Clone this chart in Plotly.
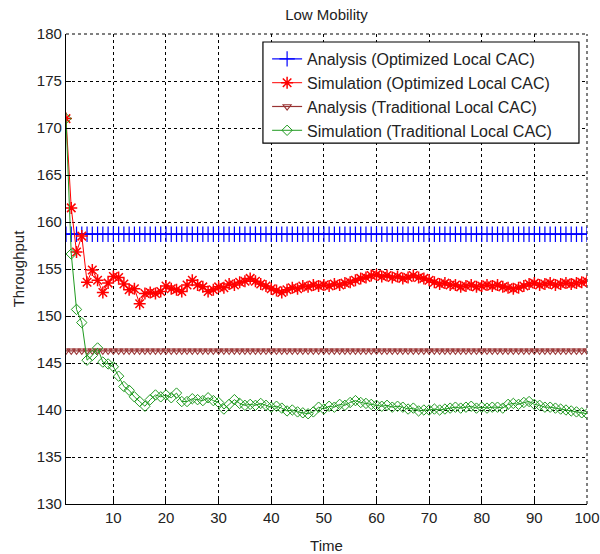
import plotly.graph_objects as go

# Time axis (steps 1..100)
time = list(range(1, 101))

# Analytical throughput levels (constant over time)
analysis_optimized_level = 158.7
analysis_traditional_level = 146.3

# Simulated throughput, optimized local CAC
sim_optimized = [
    171.0, 161.5, 156.8, 158.5, 153.6, 154.9, 153.8, 152.5, 153.5, 154.2,
    154.1, 153.4, 152.8, 152.9, 151.3, 152.4, 152.5, 152.4, 152.6, 153.2,
    152.9, 152.8, 152.6, 153.3, 153.8, 153.3, 153.1, 152.6, 152.8, 153.1,
    153.0, 153.4, 153.3, 153.6, 153.7, 154.0, 153.7, 153.4, 153.2, 152.9,
    152.7, 152.5, 152.8, 153.0, 152.9, 153.2, 153.1, 153.3, 153.2, 153.3,
    153.2, 153.4, 153.3, 153.5, 153.6, 153.8, 154.0, 154.1, 154.3, 154.4,
    154.2, 154.3, 154.1, 154.2, 154.0, 154.1, 154.3, 154.1, 154.0, 153.8,
    153.6, 153.4, 153.5, 153.3, 153.3, 153.1, 153.2, 153.3, 153.1, 153.2,
    153.3, 153.2, 153.3, 153.1, 153.0, 152.9, 153.0, 153.2, 153.4, 153.5,
    153.3, 153.4, 153.5, 153.3, 153.4, 153.5, 153.4, 153.5, 153.6, 153.7,
]

# Simulated throughput, traditional local CAC
sim_traditional = [
    171.0, 156.6, 150.7, 149.3, 145.3, 145.8, 146.6, 145.1, 144.9, 144.6,
    143.6, 142.5, 142.1, 141.4, 140.9, 140.4, 141.1, 141.6, 141.4, 141.6,
    141.3, 141.8, 140.9, 140.9, 141.2, 141.1, 141.0, 141.3, 141.0, 140.8,
    140.1, 140.6, 141.1, 140.7, 140.5, 140.6, 140.5, 140.7, 140.5, 140.3,
    140.4, 140.2, 139.9, 140.0, 139.8, 139.7, 139.6, 139.8, 140.3, 140.1,
    140.4, 140.3, 140.6, 140.5, 140.8, 141.0, 140.8, 140.7, 140.6, 140.5,
    140.4, 140.5, 140.3, 140.4, 140.3, 140.1, 140.2, 139.9, 140.0, 140.0,
    140.1, 140.0, 140.1, 140.2, 140.3, 140.2, 140.3, 140.4, 140.2, 140.3,
    140.2, 140.3, 140.3, 140.2, 140.6, 140.7, 140.6, 140.8, 140.9, 140.6,
    140.5, 140.3, 140.3, 140.2, 140.1, 140.0, 139.9, 139.8, 139.7, 139.6,
]

analysis_optimized = [analysis_optimized_level for _ in time]
analysis_traditional = [analysis_traditional_level for _ in time]

series_names = [
    "Analysis (Optimized Local CAC)",
    "Simulation (Optimized Local CAC)",
    "Analysis (Traditional Local CAC)",
    "Simulation (Traditional Local CAC)",
]

x_ticks = [10, 20, 30, 40, 50, 60, 70, 80, 90, 100]
y_ticks = [130, 135, 140, 145, 150, 155, 160, 165, 170, 175, 180]

BLUE = "#0000ff"
RED = "#ff0000"
BROWN = "#993333"
GREEN = "#1f9a1f"
FONT = "Liberation Sans, Arial, sans-serif"
TEXT = "#222222"

fig = go.Figure()

fig.add_trace(go.Scatter(
    x=time, y=analysis_optimized, name=series_names[0], mode="lines+markers",
    line=dict(color=BLUE, width=1.2),
    marker=dict(symbol="cross-thin", size=11, line=dict(color=BLUE, width=1.2)),
))
fig.add_trace(go.Scatter(
    x=time, y=sim_optimized, name=series_names[1], mode="lines+markers",
    line=dict(color=RED, width=1),
    marker=dict(symbol="asterisk", size=10, line=dict(color=RED, width=1.5)),
))
fig.add_trace(go.Scatter(
    x=time, y=analysis_traditional, name=series_names[2], mode="lines+markers",
    line=dict(color=BROWN, width=1.2),
    marker=dict(symbol="triangle-down-open", size=7, color=BROWN, line=dict(color=BROWN, width=1.1)),
))
fig.add_trace(go.Scatter(
    x=time, y=sim_traditional, name=series_names[3], mode="lines+markers",
    line=dict(color=GREEN, width=1),
    marker=dict(symbol="diamond-open", size=8, color=GREEN, line=dict(color=GREEN, width=1)),
))

axis_common = dict(
    showline=True, linecolor="black", linewidth=1.2,
    ticks="inside", ticklen=5, tickcolor="black", tickwidth=1,
    showgrid=True, gridcolor="black", gridwidth=1, griddash="3px,3px",
    zeroline=False, mirror=False, automargin=False,
    tickfont=dict(family=FONT, size=15, color=TEXT),
    title_font=dict(family=FONT, size=15, color=TEXT),
)

fig.update_layout(
    width=600, height=554,
    margin=dict(l=66, r=13, t=34, b=50),
    paper_bgcolor="white", plot_bgcolor="white",
    font=dict(family=FONT, size=15, color=TEXT),
    title=dict(text="Low Mobility", x=0.544, xanchor="center", y=1 - 15 / 554, yanchor="middle",
               font=dict(family=FONT, size=15, color=TEXT)),
    xaxis=dict(axis_common, range=[1, 100], tickvals=x_ticks,
               title=dict(text="Time", standoff=16)),
    yaxis=dict(axis_common, range=[130, 180], tickvals=y_ticks,
               title=dict(text="Throughput", standoff=8)),
    legend=dict(
        x=0.386, y=0.983, xanchor="left", yanchor="top",
        bgcolor="rgba(0,0,0,0)", borderwidth=0,
        font=dict(family=FONT, size=16, color=TEXT),
        tracegroupgap=0,
    ),
    showlegend=True,
)

# Dashed frame along the top and right edges of the plot area
fig.add_shape(type="line", xref="paper", yref="paper", x0=0, x1=1, y0=1, y1=1,
              line=dict(color="black", width=1, dash="3px,3px"), layer="below")
fig.add_shape(type="line", xref="paper", yref="paper", x0=1, x1=1, y0=0, y1=1,
              line=dict(color="black", width=1, dash="3px,3px"), layer="below")

# Legend frame (white box with black border)
fig.add_shape(type="rect", xref="paper", yref="paper",
              x0=0.378, x1=0.9846, y0=0.768, y1=0.983,
              line=dict(color="black", width=1.2), fillcolor="white", layer="above")

fig.write_html("out.html")
